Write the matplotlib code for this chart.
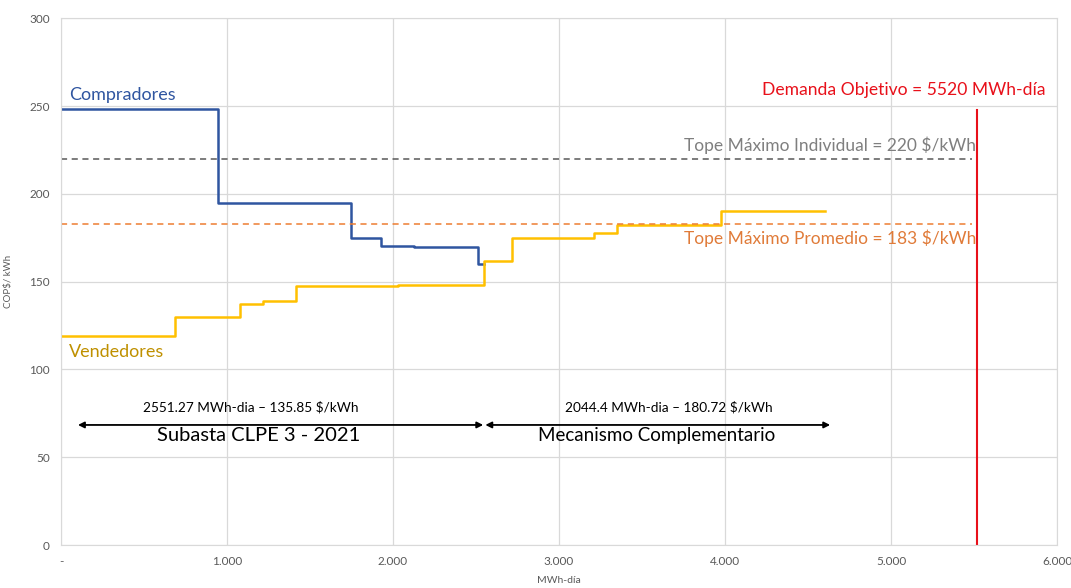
import matplotlib.pyplot as plt
import numpy as np
from matplotlib.ticker import FuncFormatter

# curva de compradores (escalones, x = inicio de cada tramo)
comp_x = [0, 944, 1745, 1928, 2128, 2510, 2545]
comp_y = [248.5, 195, 175, 170.5, 169.8, 160, 160]

# curva de vendedores
vend_x = [0, 687, 1078, 1219, 1416, 2032, 2550, 2715, 3213, 3347, 3976, 4602]
vend_y = [119, 130, 137.5, 138.7, 147.3, 148, 162, 175, 177.5, 182.5, 190, 190]

tope_ind = 220
tope_prom = 183
demanda = 5520

x_ticks = [0, 1000, 2000, 3000, 4000, 5000, 6000]
y_ticks = [0, 50, 100, 150, 200, 250, 300]

plt.rcParams['font.family'] = ['Lato', 'DejaVu Sans']

fig = plt.figure(figsize=(10.71, 5.88), dpi=100)
ax = fig.add_axes([0.057, 0.073, 0.930, 0.896])

ax.step(comp_x, comp_y, where='post', color='#2F55A0', lw=1.8)
ax.step(vend_x, vend_y, where='post', color='#FFC000', lw=1.8)

ax.plot([0, 5486], [tope_ind, tope_ind], ls=(0, (4, 3)), color='#595959', lw=1.1)
ax.plot([0, 5486], [tope_prom, tope_prom], ls=(0, (4, 3)), color='#ED7D31', lw=1.1)
ax.plot([demanda, demanda], [0, 248], color='#E8101A', lw=1.5)

ax.text(48, 256.5, 'Compradores', color='#2F55A0', fontsize=13, va='center')
ax.text(48, 110, 'Vendedores', color='#BF9000', fontsize=13, va='center')
ax.text(5512, 227.5, 'Tope Máximo Individual = 220 $/kWh', color='#7F7F7F',
        fontsize=12.5, ha='right', va='center')
ax.text(5512, 174.5, 'Tope Máximo Promedio = 183 $/kWh', color='#E07B39',
        fontsize=12.5, ha='right', va='center')
ax.text(5928, 259, 'Demanda Objetivo = 5520 MWh-día', color='#E8101A',
        fontsize=12.6, ha='right', va='center')

# flechas de los dos mecanismos
arr = dict(arrowstyle='<|-|>', color='black', lw=1.3, mutation_scale=9,
           shrinkA=0, shrinkB=0)
ax.annotate('', xy=(102, 68.4), xytext=(2543, 68.4), arrowprops=arr)
ax.annotate('', xy=(2556, 68.4), xytext=(4633, 68.4), arrowprops=arr)
ax.text(1145, 78.5, '2551.27 MWh-dia – 135.85 $/kWh', fontsize=9.8, ha='center', va='center')
ax.text(1192, 62.5, 'Subasta CLPE 3 - 2021', fontsize=14.5, ha='center', va='center')
ax.text(3663, 78.5, '2044.4 MWh-dia – 180.72 $/kWh', fontsize=9.8, ha='center', va='center')
ax.text(3590, 62.5, 'Mecanismo Complementario', fontsize=13.5, ha='center', va='center')

ax.set_xlim(0, 6000)
ax.set_ylim(0, 300)
ax.set_xticks(x_ticks)
ax.set_yticks(y_ticks)
ax.xaxis.set_major_formatter(FuncFormatter(
    lambda v, p: '-' if v == 0 else '{:,.0f}'.format(v).replace(',', '.')))
ax.grid(True, color='#D9D9D9', lw=0.9)
ax.set_axisbelow(True)
for s in ax.spines.values():
    s.set_color('#D9D9D9')
ax.tick_params(length=0, labelsize=8.5, colors='#595959', pad=8)
ax.set_xlabel('MWh-día', fontsize=7.5, color='#595959', labelpad=6)
ax.set_ylabel('COP$/ kWh', fontsize=7, color='#595959', labelpad=12)

fig.savefig('out.png', dpi=100)
